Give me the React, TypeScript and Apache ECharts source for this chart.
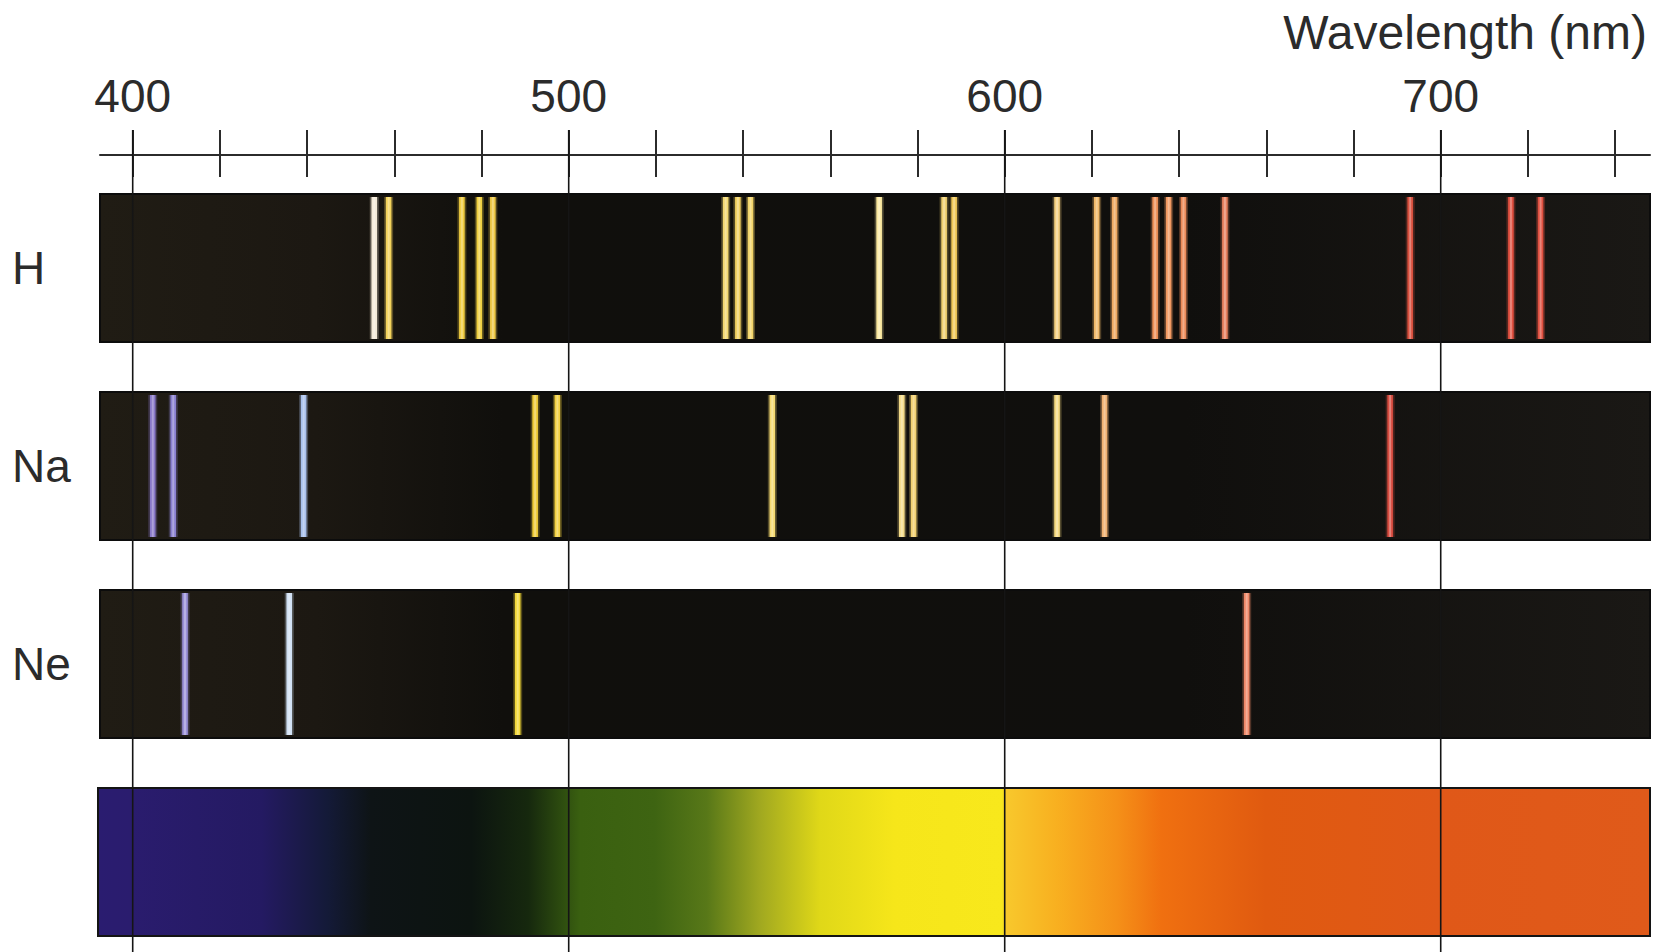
import React, { useEffect, useRef } from "react";
import * as echarts from "echarts";

// ---- data ----
const WAVE_MIN = 392.5;
const WAVE_MAX = 748;
const rows = ["H", "Na", "Ne", ""];
const minorTicks = [400, 420, 440, 460, 480, 500, 520, 540, 560, 580, 600, 620, 640, 660, 680, 700, 720, 740];
const majorTicks = [400, 500, 600, 700];

const hLines = [455.4, 458.7, 475.5, 479.5, 482.6, 536.0, 538.8, 541.7, 571.2, 586.1, 588.4, 612.0, 621.1, 625.2, 634.5, 637.6, 641.0, 650.5, 693.0, 716.1, 722.9];
const hColors = ["#f4ead8", "#f2d25a", "#f0cc40", "#f0d040", "#eec845", "#f2d870", "#f0d060", "#f2d468", "#fae8a0", "#f0d070", "#f0c858", "#f5d080", "#f0b868", "#f0a860", "#f09058", "#f09860", "#ec8a58", "#e8805e", "#d8503e", "#e05040", "#e05040"];

const naLines = [404.6, 409.3, 439.2, 492.3, 497.4, 546.7, 576.4, 579.1, 612.0, 622.9, 688.4];
const naColors = ["#8878c8", "#8a80d0", "#a8c0ec", "#f0cc38", "#f2d040", "#f5da70", "#f5dc88", "#f2d070", "#f5da80", "#f0b070", "#d84c40"];

const neLines = [412.0, 435.9, 488.3, 655.5];
const neColors = ["#9a90d8", "#d0e0f4", "#f2d838", "#f08868"];

const spectrumStops = [392.5, 400, 430, 445, 455, 478, 491, 503, 520, 532, 544, 558, 575, 599.5, 600.5, 612, 626, 636, 660, 700, 748];
const spectrumColors = ["#2a1c70", "#2a1c6e", "#241a62", "#141a38", "#0e1416", "#0c1410", "#16280e", "#3a6010", "#3e6412", "#587818", "#a0a820", "#e0d818", "#f6e61a", "#f8e81c", "#f8c82c", "#f8b020", "#f59018", "#f07010", "#e05a10", "#e05818", "#e05a1a"];

const FONT = "'Liberation Sans', Arial, Helvetica, sans-serif";
const TEXT_COLOR = "#2b2b2b";
const BAND_RATIO = 0.748;

function lineData(values: number[], colors: string[], row: string) {
  return values.map((v, i) => ({ value: [v, row], itemStyle: { color: colors[i] } }));
}

export default function App() {
  const ref = useRef<HTMLDivElement>(null);

  useEffect(() => {
    if (!ref.current) return;
    const chart = echarts.init(ref.current, null, { renderer: "svg" });

    const bandRender = (params: any, api: any) => {
      const y = api.value(1);
      const p0 = api.coord([WAVE_MIN, y]);
      const p1 = api.coord([WAVE_MAX, y]);
      const h = api.size([0, 1])[1] * BAND_RATIO;
      return {
        type: "rect",
        shape: { x: p0[0], y: p0[1] - h / 2, width: p1[0] - p0[0], height: h },
        style: {
          fill: new echarts.graphic.LinearGradient(0, 0, 1, 0, [
            { offset: 0, color: "#201c14" },
            { offset: 0.14, color: "#1c1812" },
            { offset: 0.26, color: "#100f0c" },
            { offset: 0.7, color: "#100f0d" },
            { offset: 1, color: "#1a1815" },
          ]),
          stroke: "#0c0c0c",
          lineWidth: 2,
        },
      };
    };

    const emissionRender = (params: any, api: any) => {
      const c = api.coord([api.value(0), api.value(1)]);
      const h = api.size([0, 1])[1] * BAND_RATIO - 6;
      const color = api.visual("color");
      const top = c[1] - h / 2;
      return {
        type: "group",
        children: [
          { type: "rect", shape: { x: c[0] - 4.5, y: top, width: 9, height: h }, style: { fill: color, opacity: 0.3 } },
          { type: "rect", shape: { x: c[0] - 2.8, y: top, width: 5.6, height: h }, style: { fill: color } },
          { type: "rect", shape: { x: c[0] - 1, y: top, width: 2, height: h }, style: { fill: "#ffffff", opacity: 0.3 } },
        ],
      };
    };

    const spectrumRender = (params: any, api: any) => {
      const y = api.value(1);
      const p0 = api.coord([WAVE_MIN, y]);
      const p1 = api.coord([WAVE_MAX, y]);
      const w = p1[0] - p0[0];
      const h = api.size([0, 1])[1] * BAND_RATIO;
      const stops = spectrumStops.map((nm, i) => ({
        offset: Math.min(1, Math.max(0, (api.coord([nm, y])[0] - p0[0]) / w)),
        color: spectrumColors[i],
      }));
      return {
        type: "rect",
        shape: { x: p0[0] - 2, y: p0[1] - h / 2, width: w + 2, height: h },
        style: {
          fill: new echarts.graphic.LinearGradient(0, 0, 1, 0, stops),
          stroke: "#141414",
          lineWidth: 2,
        },
      };
    };

    const gridLineRender = (params: any, api: any) => {
      const c = api.coord([api.value(0), 0]);
      const cs = params.coordSys;
      return {
        type: "line",
        shape: { x1: c[0], y1: cs.y - 25, x2: c[0], y2: cs.y + cs.height },
        style: { stroke: "#151515", lineWidth: 1.6 },
      };
    };

    chart.setOption({
      animation: false,
      backgroundColor: "#ffffff",
      title: {
        text: "Wavelength (nm)",
        right: 10,
        top: 8,
        padding: 0,
        textStyle: { fontSize: 48, fontWeight: "normal", color: TEXT_COLOR, fontFamily: FONT },
      },
      grid: [
        { left: 100, right: 7, top: 155, bottom: 0, outerBoundsMode: "none", containLabel: false },
        { left: 100, right: 7, top: 169, height: 792, outerBoundsMode: "none", containLabel: false },
      ],
      xAxis: [
        {
          gridIndex: 0,
          type: "value",
          min: WAVE_MIN,
          max: WAVE_MAX,
          position: "top",
          axisLine: { show: true, onZero: false, lineStyle: { color: TEXT_COLOR, width: 2 } },
          axisTick: { show: true, inside: false, length: 25, customValues: minorTicks, lineStyle: { color: TEXT_COLOR, width: 2 } },
          axisLabel: { show: true, customValues: majorTicks, margin: 36, fontSize: 46, color: TEXT_COLOR, fontFamily: FONT },
          splitLine: { show: false },
        },
        {
          gridIndex: 0,
          type: "value",
          min: WAVE_MIN,
          max: WAVE_MAX,
          position: "top",
          axisLine: { show: false, onZero: false },
          axisTick: { show: true, inside: true, length: 22, customValues: minorTicks, lineStyle: { color: TEXT_COLOR, width: 2 } },
          axisLabel: { show: false },
          splitLine: { show: false },
        },
        { gridIndex: 1, type: "value", min: WAVE_MIN, max: WAVE_MAX, show: false },
      ],
      yAxis: [
        { gridIndex: 0, type: "value", min: 0, max: 1, show: false },
        {
          gridIndex: 1,
          type: "category",
          data: rows,
          inverse: true,
          axisLine: { show: false },
          axisTick: { show: false },
          splitLine: { show: false },
          axisLabel: { show: true, align: "left", margin: 88, fontSize: 46, color: TEXT_COLOR, fontFamily: FONT },
        },
      ],
      series: [
        {
          type: "custom",
          name: "bands",
          xAxisIndex: 2,
          yAxisIndex: 1,
          z: 2,
          clip: false,
          renderItem: bandRender,
          data: [[WAVE_MIN, rows[0]], [WAVE_MIN, rows[1]], [WAVE_MIN, rows[2]]],
        },
        {
          type: "custom",
          name: "H",
          xAxisIndex: 2,
          yAxisIndex: 1,
          z: 4,
          renderItem: emissionRender,
          data: lineData(hLines, hColors, "H"),
        },
        {
          type: "custom",
          name: "Na",
          xAxisIndex: 2,
          yAxisIndex: 1,
          z: 4,
          renderItem: emissionRender,
          data: lineData(naLines, naColors, "Na"),
        },
        {
          type: "custom",
          name: "Ne",
          xAxisIndex: 2,
          yAxisIndex: 1,
          z: 4,
          renderItem: emissionRender,
          data: lineData(neLines, neColors, "Ne"),
        },
        {
          type: "custom",
          name: "spectrum",
          xAxisIndex: 2,
          yAxisIndex: 1,
          z: 2,
          clip: false,
          renderItem: spectrumRender,
          data: [[WAVE_MIN, 3]],
        },
        {
          type: "custom",
          name: "gridlines",
          xAxisIndex: 0,
          yAxisIndex: 0,
          z: 10,
          silent: true,
          clip: false,
          renderItem: gridLineRender,
          data: majorTicks.map((v) => [v, 0]),
        },
      ],
    });

    return () => chart.dispose();
  }, []);

  return (
    <div
      ref={ref}
      style={{ position: "fixed", left: 0, top: 0, width: 1657, height: 952, background: "#fff" }}
    />
  );
}
